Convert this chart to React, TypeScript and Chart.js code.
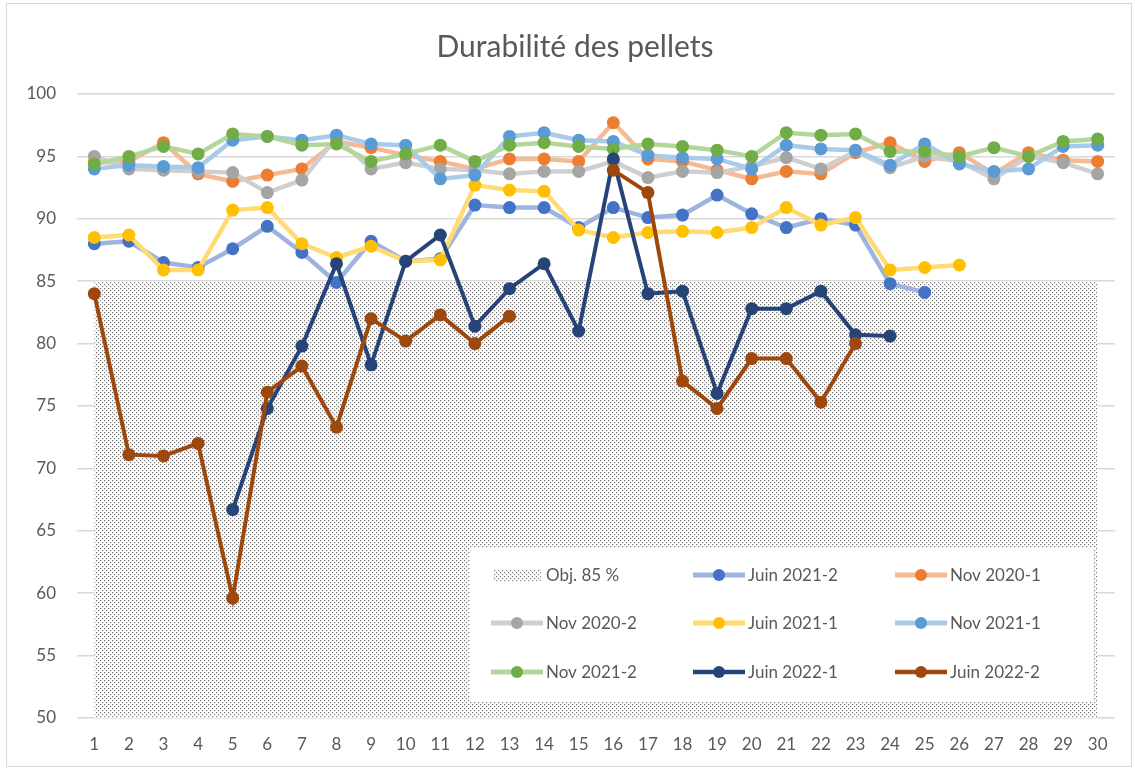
import React, { useEffect, useRef } from "react";
import { Chart, registerables } from "chart.js";

Chart.register(...registerables);

const categories = ["1","2","3","4","5","6","7","8","9","10","11","12","13","14","15","16","17","18","19","20","21","22","23","24","25","26","27","28","29","30"];

const yTicks = [50, 55, 60, 65, 70, 75, 80, 85, 90, 95, 100];

const objective85 = [85,85,85,85,85,85,85,85,85,85,85,85,85,85,85,85,85,85,85,85,85,85,85,85,85,85,85,85,85,85];

const juin2021_2 = [88.0,88.2,86.5,86.1,87.6,89.4,87.3,84.9,88.2,86.6,86.8,91.1,90.9,90.9,89.3,90.9,90.1,90.3,91.9,90.4,89.3,90.0,89.5,84.8,84.1,null,null,null,null,null];
const nov2020_1 = [94.5,94.6,96.1,93.6,93.0,93.5,94.0,96.2,95.7,95.1,94.6,94.0,94.8,94.8,94.6,97.7,94.8,94.6,93.9,93.2,93.8,93.6,95.3,96.1,94.6,95.3,93.6,95.3,94.7,94.6];
const nov2020_2 = [95.0,94.0,93.9,93.8,93.7,92.1,93.1,96.5,94.0,94.5,94.0,93.9,93.6,93.8,93.8,94.6,93.3,93.8,93.7,94.2,94.9,94.0,95.4,94.1,95.0,94.6,93.2,95.0,94.5,93.6];
const juin2021_1 = [88.5,88.7,85.9,85.9,90.7,90.9,88.0,86.9,87.8,86.6,86.7,92.7,92.3,92.2,89.1,88.5,88.9,89.0,88.9,89.3,90.9,89.5,90.1,85.9,86.1,86.3,null,null,null,null];
const nov2021_1 = [94.0,94.3,94.2,94.1,96.3,96.6,96.3,96.7,96.0,95.9,93.2,93.5,96.6,96.9,96.3,96.2,95.1,94.9,94.8,94.0,95.9,95.6,95.5,94.3,96.0,94.4,93.8,94.0,95.8,95.9];
const nov2021_2 = [94.4,95.0,95.8,95.2,96.8,96.6,95.9,96.0,94.6,95.2,95.9,94.6,95.9,96.1,95.8,95.6,96.0,95.8,95.5,95.0,96.9,96.7,96.8,95.4,95.4,95.0,95.7,95.0,96.2,96.4];
const juin2022_1 = [null,null,null,null,66.7,74.8,79.8,86.4,78.3,86.6,88.7,81.4,84.4,86.4,81.0,94.8,84.0,84.2,76.0,82.8,82.8,84.2,80.7,80.6,null,null,null,null,null,null];
const juin2022_2 = [84.0,71.1,71.0,72.0,59.6,76.1,78.2,73.3,82.0,80.2,82.3,80.0,82.2,null,null,93.9,92.1,77.0,74.8,78.8,78.8,75.3,80.0,null,null,null,null,null,null,null];

const seriesLabels = ["Juin 2021-2","Nov 2020-1","Nov 2020-2","Juin 2021-1","Nov 2021-1","Nov 2021-2","Juin 2022-1","Juin 2022-2"];
const seriesData = [juin2021_2, nov2020_1, nov2020_2, juin2021_1, nov2021_1, nov2021_2, juin2022_1, juin2022_2];
const markerColors = ["#4472C4","#ED7D31","#A5A5A5","#FFC000","#5B9BD5","#70AD47","#264478","#9E480E"];
const lineColors = ["#9DB4E0","#F5B994","#CFCFCF","#FFDB73","#A9CBEA","#B3D69B","#264478","#9E480E"];
const lineWidths = [4.5,4.5,4.5,4.5,4.5,4.5,4,4];

const objLabel = "Obj. 85 %";
const titleText = "Durabilité des pellets";
const FONT = "Lato, 'Open Sans', sans-serif";
const TEXT = "#595959";

function makePattern(): CanvasPattern | string {
  const c = document.createElement("canvas");
  c.width = 4;
  c.height = 4;
  const g = c.getContext("2d");
  if (!g) return "#d0d0d0";
  g.fillStyle = "#ffffff";
  g.fillRect(0, 0, 4, 4);
  g.fillStyle = "#e2e2e2";
  g.fillRect(1, 0, 1, 1);
  g.fillRect(0, 1, 1, 1);
  g.fillRect(3, 2, 1, 1);
  g.fillRect(2, 3, 1, 1);
  g.fillStyle = "#7a7a7a";
  g.fillRect(0, 0, 1, 1);
  g.fillRect(2, 2, 1, 1);
  const p = g.createPattern(c, "repeat");
  return p || "#d0d0d0";
}

export default function App() {
  const ref = useRef<HTMLCanvasElement | null>(null);

  useEffect(() => {
    const canvas = ref.current;
    if (!canvas) return;
    const pattern = makePattern();

    const overlay = {
      id: "overlay",
      afterDatasetsDraw(chart: any) {
        const ctx = chart.ctx as CanvasRenderingContext2D;
        ctx.save();
        // title
        ctx.fillStyle = TEXT;
        ctx.font = "30px " + FONT;
        ctx.textAlign = "center";
        ctx.textBaseline = "middle";
        ctx.fillText(titleText, 575, 47);

        // legend box
        ctx.fillStyle = "#ffffff";
        ctx.fillRect(470, 548, 623, 154);

        const rows = [575, 623, 672];
        const cols = [491, 693, 895];
        const items: any[] = [{ label: objLabel, obj: true }];
        for (let i = 0; i < seriesLabels.length; i++) {
          items.push({ label: seriesLabels[i], marker: markerColors[i], line: lineColors[i], w: lineWidths[i] });
        }
        ctx.font = "17px " + FONT;
        ctx.textAlign = "left";
        ctx.textBaseline = "middle";
        items.forEach((it, idx) => {
          const r = Math.floor(idx / 3);
          const c = idx % 3;
          const x = cols[c];
          const y = rows[r];
          if (it.obj) {
            ctx.fillStyle = pattern as any;
            ctx.fillRect(x + 2, y - 6, 48, 12);
          } else {
            ctx.strokeStyle = it.line;
            ctx.lineWidth = it.w + 0.5;
            ctx.beginPath();
            ctx.moveTo(x, y);
            ctx.lineTo(x + 52, y);
            ctx.stroke();
            ctx.fillStyle = it.marker;
            ctx.beginPath();
            ctx.arc(x + 26, y, 6, 0, Math.PI * 2);
            ctx.fill();
          }
          ctx.fillStyle = TEXT;
          ctx.fillText(it.label, x + 55, y + 1);
        });
        ctx.restore();
      },
    };

    const datasets: any[] = [
      {
        label: objLabel,
        data: objective85,
        borderWidth: 0,
        borderColor: "rgba(0,0,0,0)",
        pointRadius: 0,
        fill: "start",
        backgroundColor: pattern,
        order: 100,
      },
    ];
    seriesLabels.forEach((lab, i) => {
      datasets.push({
        label: lab,
        data: seriesData[i],
        borderColor: lineColors[i],
        borderWidth: lineWidths[i],
        pointBackgroundColor: markerColors[i],
        pointBorderColor: markerColors[i],
        pointBorderWidth: 0,
        pointRadius: 6.5,
        fill: false,
        tension: 0,
        spanGaps: false,
        order: 50 - i,
      });
    });

    const chart = new Chart(canvas, {
      type: "line",
      data: { labels: categories, datasets },
      plugins: [overlay],
      options: {
        animation: false,
        responsive: false,
        maintainAspectRatio: false,
        layout: { padding: { top: 94, right: 20, left: 0, bottom: 0 } },
        plugins: {
          legend: { display: false },
          title: { display: false },
          tooltip: { enabled: false },
        },
        scales: {
          x: {
            offset: true,
            grid: { display: false, drawTicks: false },
            border: { display: false },
            ticks: { color: TEXT, font: { family: FONT, size: 17 }, padding: 16, maxRotation: 0, autoSkip: false },
            afterFit: (s: any) => { s.height = 51; },
          },
          y: {
            min: 50,
            max: 100,
            afterBuildTicks: (s: any) => { s.ticks = yTicks.map((v) => ({ value: v })); },
            grid: { color: "#d9d9d9", lineWidth: 1.5, drawTicks: false },
            border: { display: false },
            ticks: { color: TEXT, font: { family: FONT, size: 17 }, padding: 21 },
            afterFit: (s: any) => { s.width = 77; },
          },
        },
      },
    });
    return () => chart.destroy();
  }, []);

  return (
    <div style={{ position: "fixed", left: 0, top: 0, width: 1135, height: 769, background: "#ffffff" }}>
      <canvas ref={ref} width={1135} height={769} style={{ display: "block" }} />
      <div style={{ position: "absolute", left: 6, top: 3, width: 1124, height: 762, border: "1px solid #d9d9d9", pointerEvents: "none" }} />
    </div>
  );
}
